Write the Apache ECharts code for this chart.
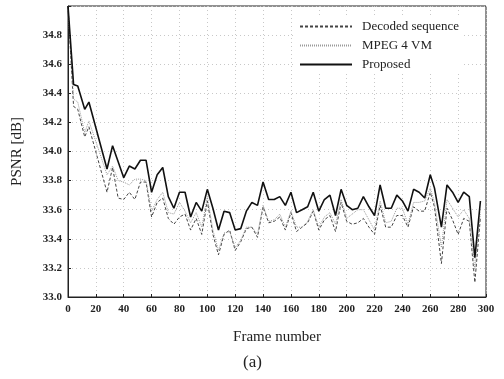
<!DOCTYPE html>
<html>
<head>
<meta charset="utf-8">
</head>
<body style="margin: 0; background: #fff">
<div id="container" style="width: 504px; height: 379px"></div>
<script src="https://cdn.jsdelivr.net/npm/echarts@6/dist/echarts.min.js"></script>
<script>
// frame positions of the plotted vertices
var frames = [0, 4, 7, 12, 15, 28, 32, 36, 40, 44, 48, 52, 56, 60, 64, 68, 72, 76, 80, 84, 88, 92, 96, 100,
  104, 108, 112, 116, 120, 124, 128, 132, 136, 140, 144, 148, 152, 156, 160, 164, 168, 172, 176, 180,
  184, 188, 192, 196, 200, 204, 208, 212, 216, 220, 224, 228, 232, 236, 240, 244, 248, 252, 256, 260,
  263, 268, 272, 276, 280, 284, 288, 292, 296];

var decoded = [35.0, 34.31, 34.29, 34.10, 34.17, 33.72, 33.89, 33.68, 33.67, 33.72, 33.67, 33.79, 33.79, 33.55,
  33.65, 33.68, 33.54, 33.50, 33.55, 33.57, 33.46, 33.54, 33.43, 33.66, 33.43, 33.29, 33.43, 33.46,
  33.32, 33.38, 33.47, 33.48, 33.41, 33.62, 33.51, 33.52, 33.55, 33.46, 33.58, 33.45, 33.48, 33.51,
  33.59, 33.46, 33.53, 33.56, 33.45, 33.65, 33.52, 33.50, 33.51, 33.54, 33.48, 33.43, 33.63, 33.48,
  33.48, 33.56, 33.56, 33.48, 33.62, 33.59, 33.59, 33.72, 33.62, 33.23, 33.61, 33.53, 33.43, 33.54,
  33.52, 33.10, 33.55];

var mpeg = [35.0, 34.36, 34.34, 34.13, 34.21, 33.84, 33.90, 33.80, 33.79, 33.77, 33.81, 33.81, 33.80, 33.59,
  33.67, 33.72, 33.58, 33.57, 33.65, 33.59, 33.51, 33.58, 33.48, 33.69, 33.46, 33.32, 33.44, 33.45,
  33.34, 33.39, 33.48, 33.48, 33.43, 33.63, 33.52, 33.53, 33.57, 33.48, 33.59, 33.48, 33.48, 33.52,
  33.60, 33.48, 33.55, 33.58, 33.50, 33.67, 33.54, 33.57, 33.60, 33.60, 33.53, 33.46, 33.66, 33.51,
  33.52, 33.61, 33.61, 33.50, 33.65, 33.65, 33.66, 33.75, 33.65, 33.34, 33.67, 33.61, 33.55, 33.60,
  33.54, 33.19, 33.58];

var proposed = [35.0, 34.46, 34.45, 34.29, 34.34, 33.88, 34.04, 33.93, 33.82, 33.90, 33.88, 33.94, 33.94, 33.72,
  33.84, 33.89, 33.69, 33.61, 33.72, 33.72, 33.55, 33.65, 33.59, 33.74, 33.61, 33.46, 33.59, 33.58,
  33.46, 33.47, 33.59, 33.65, 33.63, 33.79, 33.67, 33.67, 33.69, 33.63, 33.72, 33.58, 33.60, 33.62,
  33.72, 33.59, 33.67, 33.70, 33.56, 33.74, 33.63, 33.60, 33.61, 33.69, 33.62, 33.56, 33.77, 33.61,
  33.61, 33.70, 33.66, 33.59, 33.74, 33.72, 33.68, 33.84, 33.75, 33.48, 33.77, 33.72, 33.65, 33.72,
  33.69, 33.27, 33.66];

function pairs(ys) {
  return frames.map(function (f, i) { return [f, ys[i]]; });
}

var serif = '"Liberation Serif", "DejaVu Serif", serif';
var chart = echarts.init(document.getElementById('container'));

var option = {
  animation: false,
  grid: {
    left: 68, top: 6, right: 18, bottom: 82,
    show: true, borderColor: '#222', borderWidth: 1
  },
  legend: {
    orient: 'vertical',
    left: 296, top: 17,
    itemWidth: 52, itemHeight: 12, itemGap: 6,
    backgroundColor: '#fff',
    padding: [3, 4, 3, 3],
    itemStyle: { opacity: 0 },
    textStyle: { fontFamily: serif, fontSize: 13, color: '#222', padding: [0, 0, 0, 5] },
    data: ['Decoded sequence', 'MPEG 4 VM', 'Proposed']
  },
  xAxis: {
    type: 'value', min: 0, max: 300, interval: 20,
    name: 'Frame number', nameLocation: 'middle', nameGap: 33,
    nameTextStyle: { fontFamily: serif, fontSize: 15, color: '#222' },
    axisLine: { lineStyle: { color: '#222' } },
    axisTick: { inside: true, length: 3, lineStyle: { color: '#222' } },
    axisLabel: { fontFamily: serif, fontWeight: 'bold', fontSize: 11, color: '#222', margin: 7 },
    splitLine: { lineStyle: { color: '#c8c8c8', type: [1, 3] } }
  },
  yAxis: {
    type: 'value', min: 33.0, max: 35.0, interval: 0.2,
    name: 'PSNR [dB]', nameLocation: 'middle', nameGap: 43,
    nameTextStyle: { fontFamily: serif, fontSize: 15, color: '#222' },
    axisLine: { show: true, lineStyle: { color: '#222' } },
    axisTick: { show: true, inside: true, length: 3, lineStyle: { color: '#222' } },
    axisLabel: {
      fontFamily: serif, fontWeight: 'bold', fontSize: 11, color: '#222', margin: 6,
      formatter: function (v) { return v >= 34.99 ? '' : v.toFixed(1); }
    },
    splitLine: { lineStyle: { color: '#c8c8c8', type: [1, 3] } }
  },
  graphic: [{
    type: 'text', left: 243, top: 354,
    style: { text: '(a)', fontFamily: serif, fontSize: 17, fill: '#222' }
  }],
  series: [
    {
      name: 'Decoded sequence', type: 'line', symbol: 'none', z: 2,
      itemStyle: { color: '#444' },
      lineStyle: { color: '#444', width: 1, type: [3, 2] },
      data: pairs(decoded)
    },
    {
      name: 'MPEG 4 VM', type: 'line', symbol: 'none', z: 3,
      itemStyle: { color: '#9a9a9a' },
      lineStyle: { color: '#9a9a9a', width: 1, type: [1, 1] },
      data: pairs(mpeg)
    },
    {
      name: 'Proposed', type: 'line', symbol: 'none', z: 4,
      itemStyle: { color: '#111' },
      lineStyle: { color: '#111', width: 1.6 },
      data: pairs(proposed)
    }
  ]
};
chart.setOption(option);
</script>
</body>
</html>
